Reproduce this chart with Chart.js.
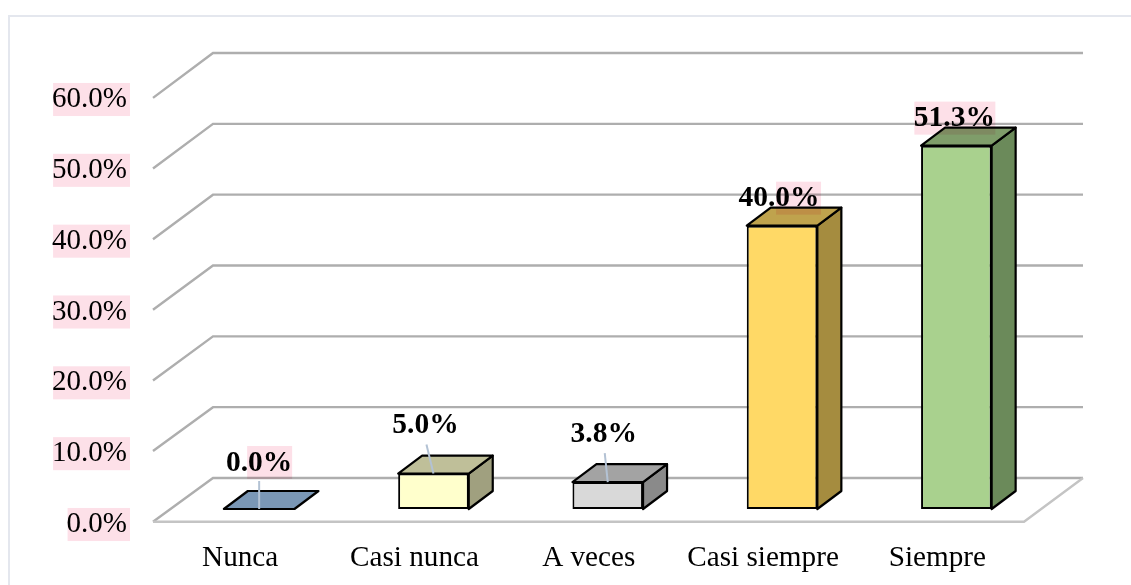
<!DOCTYPE html>
<html>
<head>
<meta charset="utf-8">
<style>
html,body{margin:0;padding:0;background:#fff;overflow:hidden}
#wrap{position:absolute;left:0;top:0;width:1131px;height:585px}
</style>
<script src="https://cdn.jsdelivr.net/npm/chart.js@4"></script>
</head>
<body>
<div id="wrap"><canvas id="c" width="1131" height="585"></canvas></div>
<script>
const categories = ['Nunca', 'Casi nunca', 'A veces', 'Casi siempre', 'Siempre'];
const values = [0.0, 5.0, 3.8, 40.0, 51.3];
const valueLabels = ['0.0%', '5.0%', '3.8%', '40.0%', '51.3%'];
const yTickLabels = ['0.0%', '10.0%', '20.0%', '30.0%', '40.0%', '50.0%', '60.0%'];
const frontColors = ['#7a97b6', '#ffffcc', '#d9d9d9', '#ffd966', '#a9d18e'];
const topColors = ['#7a97b6', '#bfbf99', '#a3a3a3', '#bfa34d', '#7f9d6a'];
const sideColors = ['#5b7188', '#a0a07f', '#8a8a8a', '#a58c3f', '#6b8a5a'];

const FONT = '"Liberation Serif","Times New Roman",serif';
const DX = 24, DY = 18;              // bar depth
const labelOffsets = [[0,-46],[-8,-48],[-4,-48],[-3,-27],[-2,-27]];
const highlights = [[-12,45],null,null,[-3,45],[-40,81]];
const leaders = [[0,-28,0,0],[-7,-29,0,0],[-3,-29,0,0],null,null];

const PINK = '#fde0e8';

const frame = {
  id: 'frame',
  beforeDraw(chart) {
    const c = chart.ctx;
    c.save();
    c.strokeStyle = '#e4e7ee';
    c.lineWidth = 2;
    c.strokeRect(9, 16, 1200, 700);
    c.restore();
  }
};

const walls = {
  id: 'walls',
  beforeDatasetsDraw(chart) {
    const c = chart.ctx, y = chart.scales.y, a = chart.chartArea;
    const fl = a.left - 19, bl = a.left + 41, br = a.right + 39.5, fr = a.right - 19.5;
    c.save();
    c.lineJoin = 'miter';
    y.ticks.forEach(t => {
      const p = y.getPixelForValue(t.value);
      const fy = p + 12.7 + t.value * 0.02, by = p - 31;
      c.strokeStyle = '#aeaeae';
      c.lineWidth = 2.4;
      c.beginPath();
      c.moveTo(fl, fy); c.lineTo(bl, by); c.lineTo(br, by);
      c.stroke();
      if (t.value === 0) {
        c.strokeStyle = '#c4c4c4';
        c.beginPath();
        c.moveTo(fl, fy); c.lineTo(fr, fy); c.lineTo(br, by);
        c.stroke();
      }
    });
    c.restore();
  }
};

const box3d = {
  id: 'box3d',
  afterDatasetsDraw(chart) {
    const c = chart.ctx;
    const bars = chart.getDatasetMeta(0).data;
    c.save();
    c.lineJoin = 'round';
    c.strokeStyle = '#000';
    c.lineWidth = 2.2;
    bars.forEach((b, i) => {
      const l = b.x - b.width / 2, r = b.x + b.width / 2, t = b.y, bot = b.base;
      c.fillStyle = sideColors[i];
      if (bot - t > 0.5) {
        c.beginPath();
        c.moveTo(r, t); c.lineTo(r + DX, t - DY); c.lineTo(r + DX, bot - DY); c.lineTo(r, bot); c.closePath();
        c.fill(); c.stroke();
      }
      c.fillStyle = topColors[i];
      c.beginPath();
      c.moveTo(l, t); c.lineTo(l + DX, t - DY); c.lineTo(r + DX, t - DY); c.lineTo(r, t); c.closePath();
      c.fill(); c.stroke();
    });
    c.restore();
  }
};

const dataLabels = {
  id: 'dataLabels',
  afterDraw(chart) {
    const c = chart.ctx;
    const bars = chart.getDatasetMeta(0).data;
    c.save();
    c.font = 'bold 29.5px ' + FONT;
    c.textAlign = 'center';
    c.textBaseline = 'middle';
    bars.forEach((b, i) => {
      const cx = b.x + labelOffsets[i][0], cy = b.y + labelOffsets[i][1];
      const ln = leaders[i];
      if (ln) {
        c.strokeStyle = '#b3c2d4';
        c.lineWidth = 2;
        c.beginPath();
        c.moveTo(b.x + ln[0], b.y + ln[1]);
        c.lineTo(b.x + ln[2], b.y + ln[3]);
        c.stroke();
      }
      c.fillStyle = '#000';
      c.fillText(valueLabels[i], cx, cy);
      const hl = highlights[i];
      if (hl) {
        c.save();
        c.globalCompositeOperation = 'multiply';
        c.fillStyle = PINK;
        c.fillRect(cx + hl[0], cy - 17, hl[1], 33);
        c.restore();
      }
    });
    c.restore();
  }
};

new Chart(document.getElementById('c'), {
  type: 'bar',
  data: {
    labels: categories,
    datasets: [{
      data: values,
      backgroundColor: frontColors,
      borderColor: '#000',
      borderWidth: 2,
      borderSkipped: false,
      categoryPercentage: 1,
      barPercentage: 0.405
    }]
  },
  plugins: [frame, walls, box3d, dataLabels],
  options: {
    responsive: false,
    animation: false,
    layout: { padding: { top: 84, right: 87.5, left: 0, bottom: 0 } },
    plugins: { legend: { display: false }, tooltip: { enabled: false }, title: { display: false } },
    scales: {
      x: {
        afterFit(s) { s.height = 76; },
        grid: { display: false, drawTicks: false },
        border: { display: false },
        ticks: {
          padding: 32, autoSkip: false, maxRotation: 0, minRotation: 0, labelOffset: -19,
          color: '#000', font: { family: FONT, size: 29.2 }
        }
      },
      y: {
        min: 0, max: 60,
        afterFit(s) { s.width = 172; },
        grid: { display: false, drawTicks: false },
        border: { display: false },
        ticks: {
          stepSize: 10, padding: 45, labelOffset: 15.5,
          color: '#000', font: { family: FONT, size: 29, lineHeight: 1.14 },
          showLabelBackdrop: true, backdropColor: PINK,
          backdropPadding: { top: 0, bottom: 0, left: -1, right: 3 },
          callback(v) { return yTickLabels[Math.round(v / 10)]; }
        }
      }
    }
  }
});
</script>
</body>
</html>
